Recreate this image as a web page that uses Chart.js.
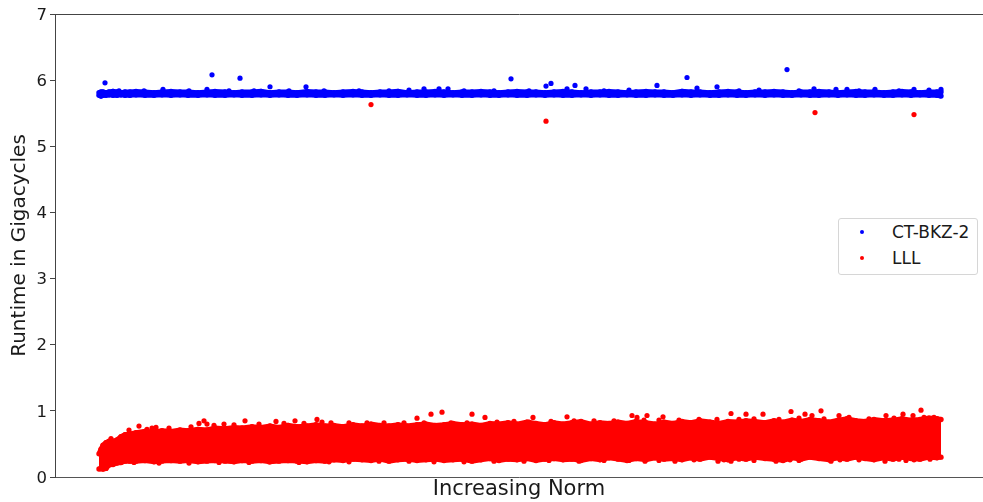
<!DOCTYPE html>
<html>
<head>
<meta charset="utf-8">
<title>Runtime in Gigacycles</title>
<script src="https://cdn.jsdelivr.net/npm/chart.js@4"></script>
<style>
  html, body { margin: 0; padding: 0; background: #fff; overflow: hidden; }
  #wrap { position: relative; width: 983px; height: 502px; }
  #chart { display: block; filter: blur(0.5px); }
  #legend {
    position: absolute; left: 838px; top: 218px; width: 138px; height: 55px;
    border: 1px solid #d6d6d6; border-radius: 3px; background: #fff;
    font: 17px "DejaVu Sans", sans-serif; color: #1a1a1a;
  }
  #legend div { position: absolute; left: 53px; white-space: nowrap; line-height: 20px; }
  #legend i { position: absolute; left: -32px; top: 8px; width: 4px; height: 4px; border-radius: 50%; }
</style>
</head>
<body>
<div id="wrap">
  <canvas id="chart" width="983" height="502"></canvas>
  <div id="legend">
    <div style="top:3px"><i style="background:#0000ff"></i>CT-BKZ-2</div>
    <div style="top:29px"><i style="background:#ff0000"></i>LLL</div>
  </div>
</div>
<script>
// Position along the norm ordering
const bandX = [
  0, 2, 4, 7, 10, 14, 18, 22, 26, 31,
  37, 46, 55, 63, 72, 81, 89, 99, 108, 116,
  126, 135, 143, 153, 162, 171, 180, 189, 198, 208,
  217, 226, 235, 244, 254, 263, 272, 281, 290, 299,
  308, 318, 327, 336, 345, 354, 363, 373, 382, 391,
  400, 409, 418, 428, 437, 446, 455, 464, 473, 482,
  492, 501, 510, 519, 528, 537, 547, 556, 565, 574,
  583, 592, 601, 611, 620, 629, 638, 647, 656, 666,
  675, 684, 693, 702, 711, 720, 730, 739, 748, 757,
  766, 775, 785, 794, 803, 812, 821, 830, 838, 842
];

// Dense runs of points: upper and lower edge of each cloud
const lllTop = [
  .35, .42, .48, .52, .54, .54, .56, .61, .64, .65,
  .67, .69, .68, .70, .69, .71, .70, .72, .71, .74,
  .73, .75, .74, .76, .75, .77, .75, .78, .76, .77,
  .79, .77, .78, .76, .79, .77, .80, .78, .77, .79,
  .77, .79, .80, .78, .79, .81, .79, .80, .78, .81,
  .80, .82, .80, .83, .81, .79, .82, .80, .82, .84,
  .80, .82, .81, .83, .81, .84, .82, .80, .83, .81,
  .84, .82, .85, .83, .81, .84, .83, .85, .84, .82,
  .85, .83, .86, .84, .87, .85, .83, .86, .88, .85,
  .84, .87, .85, .86, .88, .86, .87, .89, .88, .87
];
const lllBottom = [
  .12, .13, .12, .13, .18, .19, .21, .22, .24, .24,
  .24, .25, .23, .24, .25, .24, .25, .23, .24, .25,
  .24, .23, .25, .24, .25, .23, .24, .25, .24, .23,
  .25, .24, .26, .25, .27, .26, .25, .27, .24, .26,
  .27, .25, .26, .27, .25, .26, .27, .24, .26, .28,
  .25, .27, .26, .28, .25, .27, .28, .26, .27, .25,
  .28, .26, .29, .27, .25, .28, .26, .29, .27, .28,
  .26, .29, .27, .30, .28, .26, .29, .27, .30, .28,
  .27, .25, .29, .27, .30, .28, .26, .29, .27, .30,
  .28, .26, .29, .27, .30, .28, .27, .30, .29, .30
];
const bkzTop = [
  5.81, 5.82, 5.82, 5.81, 5.82, 5.83, 5.82, 5.81, 5.82, 5.82,
  5.83, 5.82, 5.81, 5.82, 5.83, 5.82, 5.82, 5.81, 5.82, 5.83,
  5.82, 5.81, 5.82, 5.82, 5.83, 5.81, 5.82, 5.82, 5.81, 5.83,
  5.82, 5.82, 5.81, 5.82, 5.83, 5.82, 5.81, 5.82, 5.82, 5.83,
  5.81, 5.82, 5.82, 5.83, 5.82, 5.81, 5.82, 5.82, 5.83, 5.82,
  5.81, 5.82, 5.83, 5.82, 5.82, 5.81, 5.82, 5.83, 5.82, 5.81,
  5.82, 5.82, 5.83, 5.82, 5.81, 5.82, 5.83, 5.82, 5.82, 5.81,
  5.83, 5.82, 5.82, 5.81, 5.82, 5.83, 5.82, 5.81, 5.82, 5.82,
  5.83, 5.82, 5.81, 5.82, 5.82, 5.83, 5.82, 5.81, 5.82, 5.83,
  5.82, 5.82, 5.81, 5.82, 5.83, 5.82, 5.81, 5.82, 5.82, 5.82
];
const bkzBottom = [
  5.77, 5.76, 5.77, 5.77, 5.78, 5.77, 5.77, 5.78, 5.77, 5.77,
  5.78, 5.77, 5.77, 5.78, 5.77, 5.78, 5.77, 5.77, 5.78, 5.77,
  5.77, 5.78, 5.77, 5.77, 5.78, 5.77, 5.78, 5.77, 5.77, 5.78,
  5.77, 5.77, 5.78, 5.77, 5.78, 5.77, 5.77, 5.78, 5.77, 5.77,
  5.78, 5.77, 5.77, 5.78, 5.77, 5.78, 5.77, 5.77, 5.78, 5.77,
  5.77, 5.78, 5.77, 5.77, 5.78, 5.77, 5.78, 5.77, 5.77, 5.78,
  5.77, 5.78, 5.77, 5.77, 5.78, 5.77, 5.77, 5.78, 5.77, 5.77,
  5.78, 5.77, 5.78, 5.77, 5.77, 5.78, 5.77, 5.77, 5.78, 5.77,
  5.78, 5.77, 5.77, 5.78, 5.77, 5.77, 5.78, 5.77, 5.78, 5.77,
  5.77, 5.78, 5.77, 5.77, 5.78, 5.77, 5.78, 5.77, 5.77, 5.76
];

// Single points standing clear of the clouds, then the small bumps on their edges
const bkzExtraX = [
  6, 113, 141, 171, 207, 64, 108, 412, 447, 452,
  476, 558, 588, 325, 340, 349, 468, 487, 598, 688,
  618, 715, 737, 748, 776, 815, 842,
  20, 45, 90, 130, 155, 190, 225, 260, 290, 310, 365,
  395, 430, 505, 530, 640, 660, 700, 760, 800, 830
];
const bkzExtraY = [
  5.96, 6.08, 6.03, 5.90, 5.90, 5.86, 5.86, 6.02, 5.91, 5.95,
  5.92, 5.92, 6.04, 5.87, 5.87, 5.87, 5.87, 5.87, 5.88, 6.16,
  5.90, 5.87, 5.86, 5.86, 5.86, 5.86, 5.86,
  5.84, 5.84, 5.84, 5.84, 5.84, 5.84, 5.84, 5.84, 5.84, 5.85, 5.84,
  5.84, 5.84, 5.84, 5.85, 5.84, 5.85, 5.84, 5.84, 5.84, 5.85
];
const lllExtraX = [
  272, 447, 716, 815,
  40, 53, 57, 100, 105, 108, 125, 146, 177, 196, 218, 223,
  318, 332, 343, 373, 386, 434, 468, 533, 538, 548, 564,
  632, 647, 664, 692, 706, 713, 722, 740, 787, 804, 822, 814,
  546, 576, 619, 632, 640, 677, 691, 732, 741, 786, 800, 807, 831,
  12, 30, 48, 70, 92, 115, 135, 160, 185, 205, 232, 250, 268, 285, 305, 325,
  352, 368, 398, 415, 430, 452, 475, 495, 515, 545, 560, 580, 600, 618, 640,
  655, 680, 700, 725, 750, 770, 795, 825, 835,
  35, 60, 90, 120, 150, 170, 200, 230, 250, 280, 310, 335, 365,
  395, 425, 450, 480, 505, 530, 560, 595, 625, 655, 700, 760, 815
];
const lllExtraY = [
  5.63, 5.38, 5.51, 5.48,
  .77, .74, .75, .81, .85, .80, .80, .85, .84, .85, .87, .83,
  .89, .95, .98, .95, .90, .90, .91, .93, .90, .93, .91,
  .96, .95, .95, .99, .95, .93, 1.00, .93, .93, .95, 1.01, .93,
  .24, .24, .24, .24, .27, .24, .26, .24, .26, .24, .27, .25, .27,
  .58, .71, .72, .74, .76, .78, .79, .80, .81, .81, .82, .82, .82, .82, .82, .82,
  .82, .82, .83, .84, .83, .84, .85, .85, .85, .86, .86, .86, .87, .87, .87,
  .88, .87, .89, .88, .90, .88, .89, .90, .90,
  .22, .21, .21, .22, .22, .23, .22, .23, .23, .24, .24, .23, .23,
  .24, .24, .25, .24, .25, .25, .25, .26, .26, .25, .25, .26, .26
];

const yTicks = [0, 1, 2, 3, 4, 5, 6, 7];

const BLUE = '#0000ff';
const RED = '#ff0000';
const FONT = '"DejaVu Sans", sans-serif';

function toPoints(xs, ys) {
  return xs.map((x, i) => ({ x: x, y: ys[i] }));
}

// Edge run: as thick as the markers, with the gap down to the next run filled
function edge(label, ys, color, fill) {
  return {
    label: label,
    data: toPoints(bandX, ys),
    showLine: true,
    borderWidth: 5,
    borderColor: color,
    backgroundColor: color,
    pointBackgroundColor: color,
    pointBorderWidth: 0,
    pointRadius: 2.7,
    fill: fill
  };
}

function extras(label, xs, ys, color) {
  return {
    label: label,
    data: toPoints(xs, ys),
    showLine: false,
    backgroundColor: color,
    pointBorderWidth: 0,
    pointRadius: 2.6
  };
}

new Chart(document.getElementById('chart').getContext('2d'), {
  type: 'scatter',
  data: {
    datasets: [
      edge('CT-BKZ-2', bkzTop, BLUE, '+1'),
      edge('CT-BKZ-2 lower', bkzBottom, BLUE, false),
      extras('CT-BKZ-2 single', bkzExtraX, bkzExtraY, BLUE),
      edge('LLL', lllTop, RED, '+1'),
      edge('LLL lower', lllBottom, RED, false),
      extras('LLL single', lllExtraX, lllExtraY, RED)
    ]
  },
  options: {
    responsive: false,
    animation: false,
    layout: { autoPadding: false, padding: { top: 14, right: 0, bottom: 0, left: 0 } },
    plugins: { legend: { display: false }, tooltip: { enabled: false } },
    scales: {
      x: {
        type: 'linear',
        min: -44,
        max: 884,
        grid: { display: false },
        border: { display: true, color: '#555', width: 1 },
        ticks: { display: false },
        title: {
          display: true,
          text: 'Increasing Norm',
          color: '#1a1a1a',
          font: { family: FONT, size: 21 },
          padding: { top: 3, bottom: 0 }
        },
        afterFit: scale => { scale.height = 25; }
      },
      xTop: {
        type: 'linear',
        position: 'top',
        min: -44,
        max: 884,
        grid: { display: false },
        border: { display: true, color: '#444', width: 1 },
        ticks: { display: false },
        afterFit: scale => { scale.height = 0; }
      },
      y: {
        min: 0,
        max: 7,
        afterBuildTicks: scale => { scale.ticks = yTicks.map(v => ({ value: v })); },
        grid: { drawOnChartArea: false, drawTicks: true, tickLength: 5, color: '#444' },
        border: { display: true, color: '#444', width: 1 },
        ticks: {
          color: '#1a1a1a',
          font: { family: FONT, size: 16.5 },
          padding: 3,
          labelOffset: 1.5
        },
        title: {
          display: true,
          text: 'Runtime in Gigacycles',
          color: '#1a1a1a',
          font: { family: FONT, size: 20 },
          padding: { top: 8, bottom: 0 }
        },
        afterFit: scale => { scale.width = 55; }
      }
    }
  }
});
</script>
</body>
</html>
